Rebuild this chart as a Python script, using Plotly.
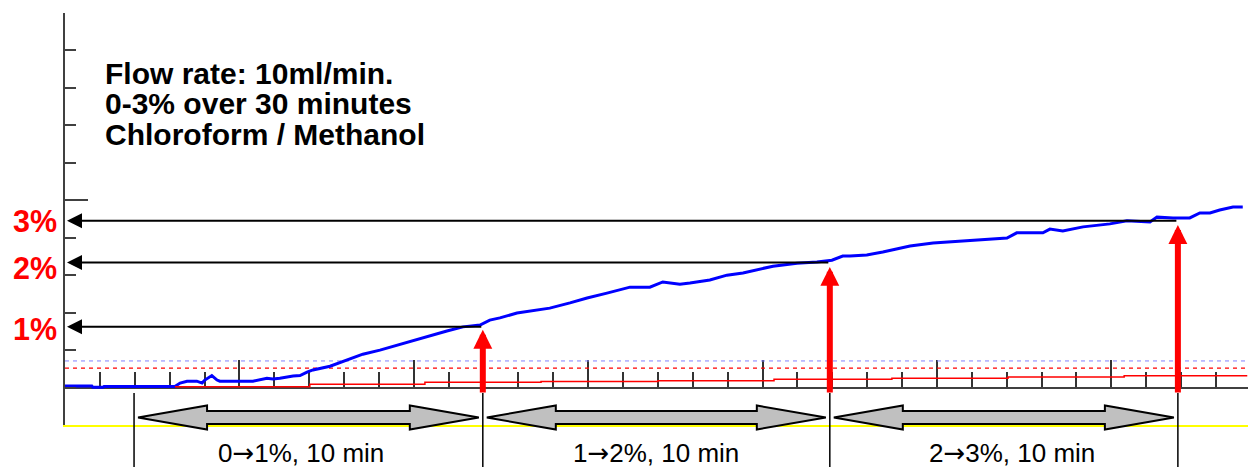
import plotly.graph_objects as go

# ---------------- data ----------------
time_min = [0.0, 0.77, 0.80, 1.09, 1.12, 3.15, 3.30, 3.50, 3.78, 3.93, 4.01, 4.21, 4.36, 4.44,
            5.39, 5.59, 5.79, 5.96, 6.16, 6.54, 6.74, 6.94, 7.11, 7.60, 8.08, 8.54, 9.03,
            9.52, 9.98, 10.46, 10.95, 11.41, 11.90, 12.18, 12.47, 12.96, 13.53, 13.90,
            14.48, 14.97, 15.54, 16.20, 16.77, 17.14, 17.63, 17.92, 18.49, 18.98, 19.44,
            19.93, 20.30, 20.99, 21.56, 21.99, 22.30, 22.51, 22.99, 23.45, 24.23, 24.89,
            26.03, 27.01, 27.29, 28.04, 28.24, 28.61, 29.19, 29.96, 30.45, 31.11, 31.31,
            31.77, 32.25, 32.54, 32.83, 33.11, 33.49, 33.77]
signal = [0.04, 0.04, 0.005, 0.005, 0.03, 0.03, 0.12, 0.17, 0.17, 0.12, 0.20, 0.32, 0.20, 0.17,
          0.17, 0.20, 0.25, 0.23, 0.25, 0.31, 0.32, 0.41, 0.47, 0.57, 0.73, 0.89, 1.00,
          1.13, 1.27, 1.40, 1.51, 1.62, 1.67, 1.80, 1.86, 1.99, 2.07, 2.12,
          2.26, 2.39, 2.52, 2.68, 2.68, 2.82, 2.76, 2.79, 2.87, 3.00, 3.06,
          3.16, 3.24, 3.32, 3.35, 3.40, 3.51, 3.51, 3.54, 3.62, 3.78, 3.86,
          3.94, 3.99, 4.13, 4.13, 4.23, 4.18, 4.29, 4.37, 4.45, 4.42, 4.55,
          4.53, 4.53, 4.66, 4.66, 4.74, 4.82, 4.82]

step_time = [3.15, 7.02, 10.32, 13.65, 17.00, 20.33, 23.71, 27.04, 30.37, 33.90]
step_level = [0.02, 0.085, 0.14, 0.16, 0.18, 0.22, 0.245, 0.28, 0.315, 0.315]

threshold_blue = 0.71
threshold_red = 0.52

gradient_marks = [1.98, 11.98, 21.93, 31.91]       # minutes
pct_levels = [1.62, 3.34, 4.45]                     # signal at 1%, 2%, 3%
pct_labels = ["1%", "2%", "3%"]
arrow_tips = [1.54, 3.22, 4.34]
segment_labels = ["0→1%, 10 min", "1→2%, 10 min", "2→3%, 10 min"]
info_lines = ["Flow rate: 10ml/min.", "0-3% over 30 minutes", "Chloroform / Methanol"]

# ---------------- geometry / style ----------------
OFF = 8                      # page body margin of the html page
SCREEN_W, SCREEN_H = 1256, 467
W, H = SCREEN_W - OFF, SCREEN_H - OFF
X_RANGE = [0, 34.15]
Y_RANGE = [-1, 10]
# plot area in screen pixels
PL, PR, PT, PB = 65, 1256, 13, 425
px_x = (PR - PL) / (X_RANGE[1] - X_RANGE[0])
px_y = (PB - PT) / (Y_RANGE[1] - Y_RANGE[0])
FONT = "Liberation Sans, Arial, sans-serif"
ARROW_SPAN = '<span style="font-family:\'DejaVu Sans\'">→</span>'


def px_paper(px):
    return (px - OFF) / W


def py_paper(py):
    return 1 - (py - OFF) / H


def y_paper(v):
    return py_paper(PB - (v - Y_RANGE[0]) * px_y)


fig = go.Figure()

# dashed threshold lines
fig.add_trace(go.Scatter(x=X_RANGE, y=[threshold_blue] * 2, mode="lines",
                         line=dict(color="#8080ff", width=1, dash="4px,4px"), hoverinfo="skip"))
fig.add_trace(go.Scatter(x=X_RANGE, y=[threshold_red] * 2, mode="lines",
                         line=dict(color="#ff0000", width=1.2, dash="4px,4px"), hoverinfo="skip"))
# red step (programmed gradient)
fig.add_trace(go.Scatter(x=step_time, y=step_level, mode="lines", line_shape="hv",
                         line=dict(color="#ff0000", width=1.5), xaxis="x2", yaxis="y",
                         hoverinfo="skip"))
# blue detector trace
fig.add_trace(go.Scatter(x=time_min, y=signal, mode="lines",
                         line=dict(color="#0000ff", width=3), hoverinfo="skip"))

shapes = []
annotations = []

# thin black vertical markers
for m in gradient_marks:
    shapes.append(dict(type="line", xref="x", yref="paper", x0=m, x1=m,
                       y0=py_paper(SCREEN_H + 2), y1=py_paper(393),
                       line=dict(color="black", width=1.5), layer="above"))

# grey double block arrows
yc = py_paper(417.5)
hh, sh = 12 / H, 6.5 / H
inset, head = 4 / px_x, 69 / px_x
for a0, b0 in zip(gradient_marks[:-1], gradient_marks[1:]):
    a, b = a0 + inset, b0 - inset
    pts = [(a, yc), (a + head, yc + hh), (a + head, yc + sh), (b - head, yc + sh),
           (b - head, yc + hh), (b, yc), (b - head, yc - hh), (b - head, yc - sh),
           (a + head, yc - sh), (a + head, yc - hh)]
    path = "M " + " L ".join(f"{x:.4f},{y:.5f}" for x, y in pts) + " Z"
    shapes.append(dict(type="path", xref="x", yref="paper", path=path,
                       fillcolor="#c0c0c0", line=dict(color="black", width=2), layer="above"))

# black horizontal arrows to the axis
for m, lv in zip(gradient_marks[1:], pct_levels):
    annotations.append(dict(x=X_RANGE[0], y=lv, ax=m, ay=lv, xref="x", yref="y",
                            axref="x", ayref="y", text="", showarrow=True,
                            arrowhead=2, arrowsize=1.5, arrowwidth=2, arrowcolor="black",
                            standoff=2))
# red vertical arrows
tail = -6.5 / px_y
for m, tip in zip(gradient_marks[1:], arrow_tips):
    annotations.append(dict(x=m, y=tip, ax=m, ay=tail, xref="x", yref="y",
                            axref="x", ayref="y", text="", showarrow=True,
                            arrowhead=2, arrowsize=0.63, arrowwidth=6, arrowcolor="#ff0000",
                            standoff=0))

# red % labels
for lab, lv, ys in zip(pct_labels, pct_levels, [-2, -6, 0]):
    annotations.append(dict(x=px_paper(35), y=lv, xref="paper", yref="y", text=lab,
                            showarrow=False, xanchor="center", yanchor="middle", yshift=ys,
                            font=dict(family=FONT, size=30.5, color="#ff0000", weight="bold")))

# info text
for line, py in zip(info_lines, [73, 103, 134]):
    annotations.append(dict(x=px_paper(103), y=py_paper(py), xref="paper", yref="paper",
                            text=line, showarrow=False, xanchor="left", yanchor="middle",
                            font=dict(family=FONT, size=30, color="black", weight="bold")))

# segment labels
for lab, a0, b0, xs in zip(segment_labels, gradient_marks[:-1], gradient_marks[1:], [-7, 0, 8]):
    annotations.append(dict(x=(a0 + b0) / 2, y=py_paper(453), xref="x", yref="paper",
                            text=lab.replace("→", ARROW_SPAN),
                            showarrow=False, xanchor="center", yanchor="middle", xshift=xs,
                            font=dict(family=FONT, size=26, color="black")))

fig.update_layout(
    width=W, height=H,
    margin=dict(l=0, r=0, t=0, b=0, autoexpand=False),
    paper_bgcolor="white", plot_bgcolor="white",
    showlegend=False,
    xaxis=dict(domain=[px_paper(PL), px_paper(PR)], range=X_RANGE, anchor="y", showline=True,
               linecolor="#ffff00", linewidth=2, ticks="", showticklabels=False,
               showgrid=False, zeroline=False),
    xaxis2=dict(overlaying="x", matches="x", range=X_RANGE, anchor="free",
                position=y_paper(0), side="bottom", showline=True, linecolor="#404040",
                linewidth=2, ticks="inside", tickmode="linear", tick0=0, dtick=5,
                ticklen=27, tickwidth=1.5, tickcolor="#333333", showticklabels=False,
                showgrid=False, zeroline=False, layer="below traces",
                minor=dict(ticks="inside", tickmode="linear", tick0=0, dtick=1,
                           ticklen=15, tickwidth=1.5, tickcolor="#333333", showgrid=False)),
    yaxis=dict(domain=[py_paper(PB), py_paper(PT)], range=Y_RANGE, showline=True,
               linecolor="#404040", linewidth=2, ticks="inside", tickmode="array",
               tickvals=[5], ticklen=23, tickwidth=2, tickcolor="#404040",
               showticklabels=False, showgrid=False, zeroline=False,
               minor=dict(ticks="inside", tickmode="linear", tick0=0, dtick=1,
                          ticklen=11, tickwidth=2, tickcolor="#404040", showgrid=False)),
    shapes=shapes,
    annotations=annotations,
)

fig.write_html("out.html", config={"displayModeBar": False})
